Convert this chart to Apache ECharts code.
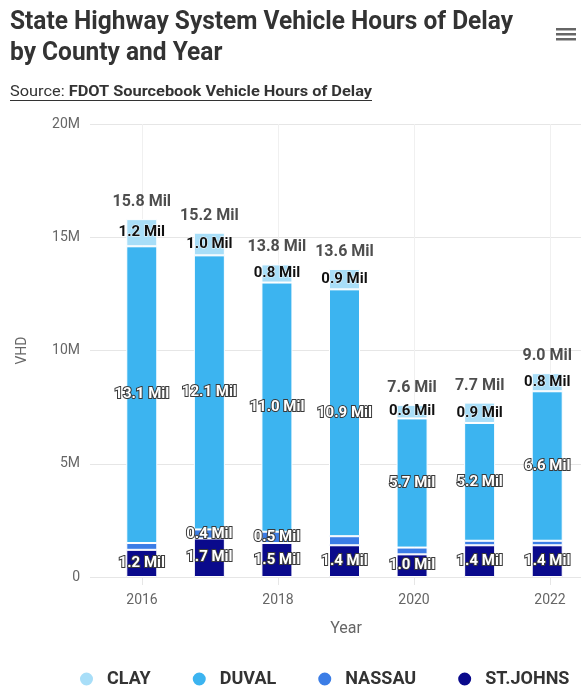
<!DOCTYPE html>
<html>
<head>
<meta charset="utf-8">
<script src="https://cdn.jsdelivr.net/npm/echarts@6/dist/echarts.min.js"></script>
<style>
  html, body { margin: 0; padding: 0; background: #fff; }
  #chart { width: 581px; height: 689px; }
</style>
</head>
<body>
<div id="chart"></div>
<script>
// Vehicle hours of delay (millions) on the State Highway System, by county
const years    = [2016, 2017, 2018, 2019, 2020, 2021, 2022];
const stJohns  = [1.2, 1.7, 1.5, 1.4, 1.0, 1.4, 1.4];
const nassau   = [0.3, 0.4, 0.5, 0.4, 0.3, 0.2, 0.2];
const duval    = [13.1, 12.1, 11.0, 10.9, 5.7, 5.2, 6.6];
const clay     = [1.2, 1.0, 0.8, 0.9, 0.6, 0.9, 0.8];
const countyNames = ['CLAY', 'DUVAL', 'NASSAU', 'ST.JOHNS'];
const yearTicks = [2016, 2018, 2020, 2022];
// Nassau labels that fit without colliding with neighbours
const nassauLabelYears = [2017, 2018];

const titleLines = ['State Highway System Vehicle Hours of Delay', 'by County and Year'];
const sourcePrefix = 'Source: ';
const sourceName = 'FDOT Sourcebook Vehicle Hours of Delay';

const totals = years.map((_, i) => stJohns[i] + nassau[i] + duval[i] + clay[i]);

// Condensed look: measure the text and squeeze it horizontally
const measureCtx = document.createElement('canvas').getContext('2d');
function textWidth(t, font) { measureCtx.font = font; return measureCtx.measureText(t).width; }
const TITLE_FONT = 'bold 25px Roboto';
const SRC_FONT = '15px Roboto';
const SRC_BOLD = 'bold 15px Roboto';
const titleScale = 503 / textWidth(titleLines[0], TITLE_FONT);
const w1 = textWidth(sourcePrefix, SRC_FONT);
const w2 = textWidth(sourceName, SRC_BOLD);
const srcScale = 362 / (w1 + w2);

const mil = v => v.toFixed(1) + ' Mil';
const yearLabels = years.map(String);

const lightLabel = {
  show: true, position: 'inside', formatter: p => mil(p.value),
  fontFamily: 'Roboto', fontSize: 15, fontWeight: 'bold',
  color: '#fff', textBorderColor: '#3a3a3a', textBorderWidth: 2
};
const darkLabel = {
  show: true, position: 'inside', formatter: p => mil(p.value),
  fontFamily: 'Roboto', fontSize: 15, fontWeight: 'bold',
  color: '#111', textBorderColor: 'rgba(255,255,255,0.85)', textBorderWidth: 1
};

function barSeries(name, values, color, label, labelYears) {
  return {
    name, type: 'bar', stack: 'county', xAxisIndex: 2, yAxisIndex: 2,
    barWidth: 31,
    itemStyle: { color, borderColor: '#fff', borderWidth: 1 },
    label,
    data: years.map((y, i) => {
      const item = { value: values[i] };
      if (labelYears && !labelYears.includes(y)) item.label = { show: false };
      return item;
    })
  };
}

const chart = echarts.init(document.getElementById('chart'), null, { renderer: 'canvas' });
chart.setOption({
  animation: false,
  backgroundColor: '#fff',
  textStyle: { fontFamily: 'Roboto' },
  graphic: [
    {
      type: 'group', x: 10, y: 0, scaleX: titleScale,
      children: [
        { type: 'text', x: 0, y: 23, style: { text: titleLines[0], font: TITLE_FONT, fill: '#333', verticalAlign: 'middle' } },
        { type: 'text', x: 0, y: 54, style: { text: titleLines[1], font: TITLE_FONT, fill: '#333', verticalAlign: 'middle' } }
      ]
    },
    {
      type: 'group', x: 10, y: 0, scaleX: srcScale,
      children: [
        { type: 'text', x: 0, y: 92, style: { text: sourcePrefix, font: SRC_FONT, fill: '#333', verticalAlign: 'middle' } },
        { type: 'text', x: w1, y: 92, style: { text: sourceName, font: SRC_BOLD, fill: '#333', verticalAlign: 'middle' } },
        { type: 'rect', shape: { x: 0, y: 100, width: w1 + w2, height: 1 }, style: { fill: '#333' } }
      ]
    },
    // menu button
    {
      type: 'group', x: 556, y: 28,
      children: [0, 5, 10].map(dy => ({
        type: 'rect', shape: { x: 0, y: dy, width: 20, height: 2.5 }, style: { fill: '#666' }
      }))
    }
  ],
  legend: {
    data: countyNames,
    left: 73, top: 665,
    icon: 'circle', itemWidth: 15, itemHeight: 15, itemGap: 40,
    textStyle: { fontFamily: 'Roboto', fontSize: 18, fontWeight: 'bold', color: '#333', padding: [0, 0, 0, 8] }
  },
  grid: [
    { left: 90, right: 0, top: 124, bottom: 112 },
    { left: 142, right: 31, top: 124, bottom: 112 },
    { left: 108, width: 476, top: 124, bottom: 112 }
  ],
  xAxis: [
    { gridIndex: 0, type: 'value', show: false, min: 0, max: 1 },
    {
      gridIndex: 1, type: 'value', min: yearTicks[0], max: yearTicks[yearTicks.length - 1], interval: 2,
      name: 'Year', nameLocation: 'middle', nameGap: 44,
      nameTextStyle: { fontSize: 16, color: '#666', fontFamily: 'Roboto' },
      axisLine: { show: false },
      axisTick: { show: true, length: 8, lineStyle: { color: '#e6e6e6' } },
      axisLabel: { fontSize: 14, color: '#666', margin: 16, formatter: v => String(v) },
      splitLine: { show: true, lineStyle: { color: '#f0f0f0', width: 1 } }
    },
    { gridIndex: 2, type: 'category', data: yearLabels, show: false }
  ],
  yAxis: [
    {
      gridIndex: 0, type: 'value', min: 0, max: 20, interval: 5,
      name: 'VHD', nameLocation: 'middle', nameGap: 61,
      nameTextStyle: { fontSize: 14, color: '#666', fontFamily: 'Roboto' },
      axisLine: { show: false }, axisTick: { show: false },
      axisLabel: { fontSize: 14, color: '#666', margin: 10, formatter: v => v === 0 ? '0' : v + 'M' },
      splitLine: { lineStyle: { color: '#e6e6e6' } }
    },
    { gridIndex: 1, type: 'value', min: 0, max: 20, show: false, splitLine: { show: false } },
    { gridIndex: 2, type: 'value', min: 0, max: 20, show: false, splitLine: { show: false } }
  ],
  series: [
    barSeries('ST.JOHNS', stJohns, '#0a0a8c', lightLabel),
    barSeries('NASSAU', nassau, '#3b7de6', lightLabel, nassauLabelYears),
    barSeries('DUVAL', duval, '#3cb4f0', lightLabel),
    barSeries('CLAY', clay, '#a8def8', darkLabel),
    {
      name: 'Total', type: 'scatter', xAxisIndex: 2, yAxisIndex: 2,
      symbolSize: 0, silent: true,
      label: {
        show: true, position: 'top', distance: 9,
        formatter: p => mil(p.value),
        fontFamily: 'Roboto', fontSize: 16, fontWeight: 'bold', color: '#222'
      },
      data: totals
    }
  ]
});
</script>
</body>
</html>
